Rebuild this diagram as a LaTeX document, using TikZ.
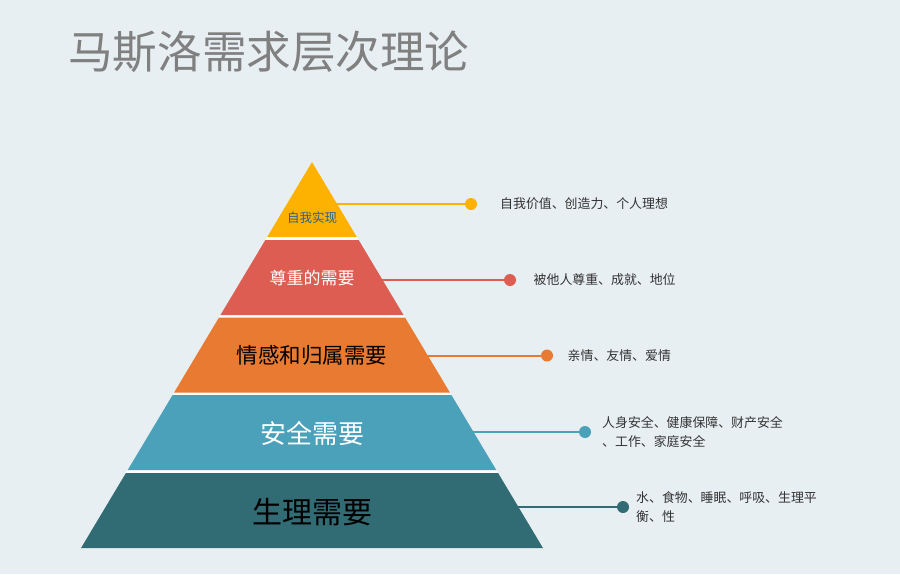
\documentclass[tikz,border=0pt]{standalone}
\usepackage{fontspec}
\setmainfont{Noto Sans CJK SC}
\usepackage{xcolor}
\usetikzlibrary{calc,positioning}
\definecolor{bg}{HTML}{E8EFF3}
\definecolor{gold}{HTML}{FDB100}
\definecolor{brick}{HTML}{DD5D53}
\definecolor{tang}{HTML}{E87A31}
\definecolor{sea}{HTML}{4BA0BA}
\definecolor{teal}{HTML}{316B73}
\definecolor{ink}{HTML}{333333}
\definecolor{navy}{HTML}{2A5E9A}
\tikzset{%
    lbl/.style={inner sep=0pt,font=\fontsize{#1}{#1}\selectfont},
    dot/.style={circle,fill=#1,inner sep=0pt,minimum size=12pt},
    item/.style={inner sep=0pt,anchor=west,align=left,text=ink,font=\fontsize{12.9}{19}\selectfont},
}
\tikzstyle{link}=[line width=2pt]

\begin{document}
\begin{tikzpicture}[x=1pt,y=-1pt]
      \fill[bg] (0,0) rectangle (900,574);
      \useasboundingbox (0,0) rectangle (900,574);
      \node[lbl=44.6,anchor=west,text=black!50] (title) at (68,52) {马斯洛需求层次理论};

      % pyramid: white triangle behind, layers leave the gaps
      \fill[white] (312,162) -- (543,548) -- (81,548) -- cycle;
      \foreach \t/\b/\c in {162/237/gold,240/315/brick,317.5/392.5/tang,395/470/sea,473/548/teal}
        \fill[\c] ({312-0.5984*(\t-162)},\t) -- ({312+0.5984*(\t-162)},\t)
                  -- ({312+0.5984*(\b-162)},\b) -- ({312-0.5984*(\b-162)},\b) -- cycle;

      \node[lbl=12.5,text=navy] (l1) at (312,218) {自我实现};
      \node[lbl=17,text=white] (l2) at (312,278) {尊重的需要};
      \node[lbl=21.5,text=black] (l3) at (312,355) {情感和归属需要};
      \node[lbl=26,text=white] (l4) at (312,433) {安全需要};
      \node[lbl=30,text=black] (l5) at (312,512) {生理需要};

      % connectors
      \foreach \i/\y/\xd/\c in {1/204/471/gold,2/280/510/brick,3/355.5/547/tang,4/432/585/sea,5/507/623/teal}{
        \coordinate (e\i) at ({311+0.5984*(\y-162)},\y);
        \node[dot=\c] (d\i) at (\xd,\y) {};
        \draw[link,\c] (e\i) -- (d\i);
      }

      \node[item] (t1) at (500,204) {自我价值、创造力、个人理想};
      \node[item] (t2) at (533.5,280) {被他人尊重、成就、地位};
      \node[item] (t3) at (567.5,355.5) {亲情、友情、爱情};
      \node[item] (t4) at (602,432) {人身安全、健康保障、财产安全\\、工作、家庭安全};
      \node[item] (t5) at (636,507.5) {水、食物、睡眠、呼吸、生理平\\衡、性};
    \end{tikzpicture}
\end{document}
